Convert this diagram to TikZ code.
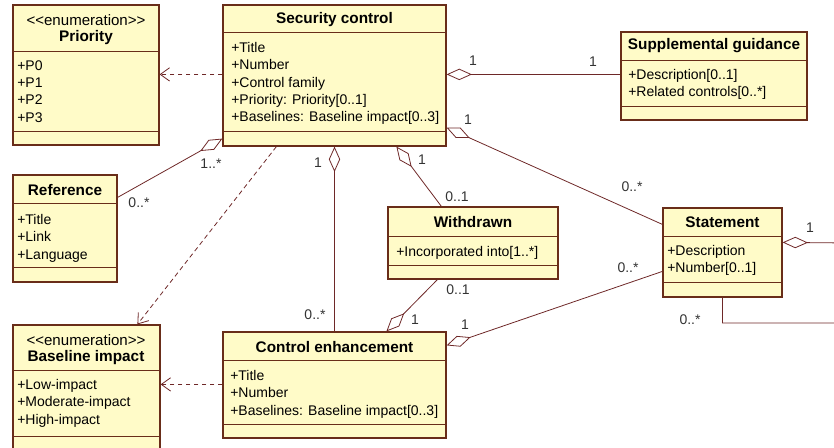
\documentclass[tikz,border=0pt]{standalone}
\usepackage{fontspec}
\setmainfont{Liberation Sans}
\usetikzlibrary{arrows.meta,calc,fit}
\definecolor{clsfill}{RGB}{255,251,200}
\definecolor{clsdraw}{RGB}{105,45,25}
\definecolor{assoc}{RGB}{110,40,40}
\newcommand{\stereo}[1]{{\fontsize{11.3}{12}\selectfont\mdseries <{}<#1>{}>}}
\tikzset{
  cls/.style={draw=clsdraw, fill=clsfill, line width=0.9pt, inner sep=0pt},
  clsline/.style={draw=clsdraw, line width=0.9pt},
  clsname/.style={font=\fontsize{11.5}{12}\selectfont\bfseries, align=center, inner sep=0pt},
  attrs/.style={font=\fontsize{10.5}{13}\selectfont, align=left, anchor=north west, inner sep=0pt},
  mult/.style={font=\fontsize{10.5}{12}\selectfont, inner sep=0pt, text=black!80},
  dep/.style={draw=assoc, line width=0.6pt, dash pattern=on 3.5pt off 2.5pt, -{Straight Barb[length=7pt,width=10pt]}},
  aggr/.style={draw=assoc, line width=0.6pt, {Diamond[open,length=19pt,width=8.5pt]}-},
}
\begin{document}
\begin{tikzpicture}[x=0.75pt,y=-0.75pt]
\useasboundingbox (0,0) rectangle (834,447);
\clip (0,0) rectangle (834,447);

% class boxes
\node[cls, fit={(13,5) (159,145)}] (prio) {};
\node[cls, fit={(223,5) (446,146)}] (sec) {};
\node[cls, fit={(621,32) (807,120)}] (sup) {};
\node[cls, fit={(13,175) (117,282)}] (ref) {};
\node[cls, fit={(13,325) (160,460)}] (base) {};
\node[cls, fit={(223,332) (446,438)}] (ce) {};
\node[cls, fit={(388,207) (558,279)}] (wd) {};
\node[cls, fit={(663,208) (782,297)}] (st) {};

% compartments
\foreach \c/\a/\b in {prio/47/127, sec/28/127, sup/29/75, ref/29/93,
                      base/46/112, ce/29/93, wd/30/59, st/29/75} {
  \draw[clsline] ($(\c.north west)+(0,\a)$) -- ($(\c.north east)+(0,\a)$);
  \draw[clsline] ($(\c.north west)+(0,\b)$) -- ($(\c.north east)+(0,\b)$);
}

% names and attributes
\node[clsname] (prio-name) at (86,29.5) {\stereo{enumeration}\\Priority};
\node[attrs] (prio-attr) at (17,60) {+P0\\+P1\\+P2\\+P3};
\node[clsname] (sec-name) at (334.5,20) {Security control};
\node[attrs] (sec-attr) at (231,42) {+Title\\+Number\\+Control family\\+Priority: Priority[0..1]\\+Baselines: Baseline impact[0..3]};
\node[clsname] (sup-name) at (714,46) {Supplemental guidance};
\node[attrs] (sup-attr) at (628,69) {+Description[0..1]\\+Related controls[0..*]};
\node[clsname] (ref-name) at (65,190) {Reference};
\node[attrs] (ref-attr) at (17,214) {+Title\\+Link\\+Language};
\node[clsname] (base-name) at (86,349.5) {\stereo{enumeration}\\Baseline impact};
\node[attrs] (base-attr) at (17,379) {+Low-impact\\+Moderate-impact\\+High-impact};
\node[clsname] (ce-name) at (334.5,347) {Control enhancement};
\node[attrs] (ce-attr) at (230,370) {+Title\\+Number\\+Baselines: Baseline impact[0..3]};
\node[clsname] (wd-name) at (473,222) {Withdrawn};
\node[attrs] (wd-attr) at (396,246) {+Incorporated into[1..*]};
\node[clsname] (st-name) at (722.5,222) {Statement};
\node[attrs] (st-attr) at (667,245) {+Description\\+Number[0..1]};

% dependencies
\draw[dep] ($(sec.north west)+(0,70)$) -- ($(prio.north east)+(0,70)$);
\draw[dep] ($(sec.south west)+(54,0)$) -- ($(base.north west)+(125,0)$);
\draw[dep] ($(ce.north west)+(0,53)$) -- ($(base.north east)+(0,60)$);

% aggregations
\draw[aggr] ($(sec.north east)+(0,70)$) -- ($(sup.north west)+(0,43)$);
\draw[aggr] ($(sec.south west)+(0,-8)$) -- ($(ref.north east)+(0,23)$);
\draw[aggr] (sec.south) -- (ce.north);
\draw[aggr] ($(sec.south west)+(174,0)$) -- ($(wd.north west)+(54,0)$);
\draw[aggr] ($(sec.south east)+(0,-19)$) -- ($(st.north west)+(0,17)$);
\draw[aggr] ($(ce.north west)+(164,0)$) -- ($(wd.south west)+(50,0)$);
\draw[aggr] ($(ce.north east)+(0,14)$) -- ($(st.north west)+(0,64)$);
\coordinate (loop-a) at (850,243);
\coordinate (loop-b) at (850,323);
\draw[aggr] ($(st.north east)+(0,35)$) -- (loop-a) -- (loop-b) -| ($(st.south west)+(60,0)$);

% multiplicities
\node[mult] (m-sup-a) at (473,61) {1};
\node[mult] (m-sup-b) at (593,62) {1};
\node[mult] (m-ref-a) at (211,164) {1..*};
\node[mult] (m-ref-b) at (139,203) {0..*};
\node[mult] (m-ce-a) at (318,163) {1};
\node[mult] (m-ce-b) at (315,315) {0..*};
\node[mult] (m-wd-a) at (422,160) {1};
\node[mult] (m-wd-b) at (457,197) {0..1};
\node[mult] (m-st-a) at (468,120) {1};
\node[mult] (m-st-b) at (632,187) {0..*};
\node[mult] (m-wdce-a) at (458,290) {0..1};
\node[mult] (m-wdce-b) at (415,320) {1};
\node[mult] (m-cest-a) at (465,325) {1};
\node[mult] (m-cest-b) at (628,268) {0..*};
\node[mult] (m-loop-a) at (810,228) {1};
\node[mult] (m-loop-b) at (690,320) {0..*};
\end{tikzpicture}
\end{document}
